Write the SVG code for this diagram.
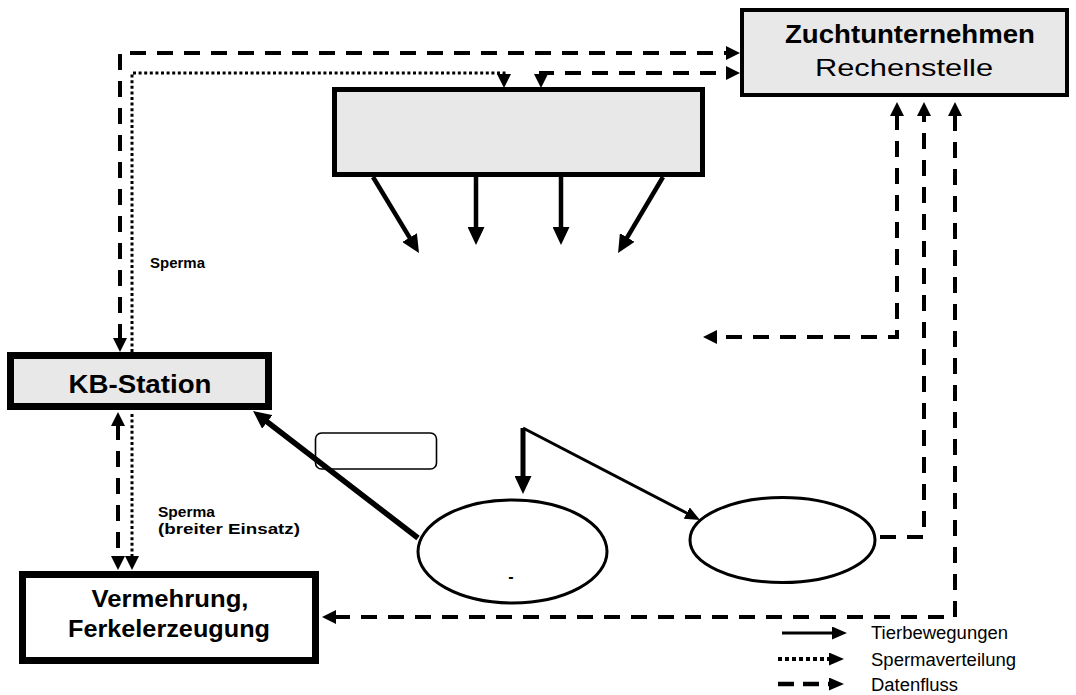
<svg xmlns="http://www.w3.org/2000/svg" width="1076" height="695" viewBox="0 0 1076 695">
  <style>
    .box { stroke: #000; }
    .grey { fill: #e8e8e8; }
    .white { fill: #fff; }
    .lbl { font-family: "Liberation Sans", Arial, sans-serif; fill: #000; }
    .b { font-weight: bold; }
    .data { fill: none; stroke: #000; stroke-width: 4; stroke-dasharray: 16 11; }
    .semen { fill: none; stroke: #000; stroke-width: 3; stroke-dasharray: 3 2.6; }
    .move { fill: none; stroke: #000; }
  </style>
  <defs>
    <marker id="ah" viewBox="0 0 14 14" markerWidth="14" markerHeight="14" refX="2" refY="7" orient="auto-start-reverse" markerUnits="userSpaceOnUse">
      <path d="M0,0 L14,7 L0,14 z" fill="#000"/>
    </marker>
    <marker id="ahBig" viewBox="0 0 18 17" markerWidth="18" markerHeight="17" refX="2" refY="8.5" orient="auto" markerUnits="userSpaceOnUse">
      <path d="M0,0 L18,8.5 L0,17 z" fill="#000"/>
    </marker>
    <marker id="ahSmall" viewBox="0 0 15 13" markerWidth="15" markerHeight="13" refX="2" refY="6.5" orient="auto" markerUnits="userSpaceOnUse">
      <path d="M0,0 L15,6.5 L0,13 z" fill="#000"/>
    </marker>
  </defs>

  <rect width="1076" height="695" fill="#fff"/>

  <!-- connectors -->
  <g id="connectors">
    <!-- data flow -->
    <path class="data" d="M120,340 V53 H728" marker-start="url(#ah)" marker-end="url(#ah)"/>
    <path class="data" d="M541,76 V73 H728" marker-start="url(#ah)" marker-end="url(#ah)"/>
    <path class="data" d="M897,114 V337 H715" marker-start="url(#ah)" marker-end="url(#ah)"/>
    <path class="data" d="M880,537 H924 V114" marker-end="url(#ah)"/>
    <path class="data" d="M334,617 H955 V114" marker-start="url(#ah)" marker-end="url(#ah)"/>
    <path class="data" d="M118,424 V558" marker-start="url(#ah)" marker-end="url(#ah)"/>

    <!-- semen distribution -->
    <path class="semen" d="M132,352 V73 H504 V76" marker-end="url(#ah)"/>
    <path class="semen" d="M132,414 V558" marker-end="url(#ah)"/>

    <!-- animal movements -->
    <path class="move" stroke-width="4.5" d="M373,177 L410.7,239.3" marker-end="url(#ahBig)"/>
    <path class="move" stroke-width="4.5" d="M476,177 V229" marker-end="url(#ahBig)"/>
    <path class="move" stroke-width="4.5" d="M561,177 V229" marker-end="url(#ahBig)"/>
    <path class="move" stroke-width="4.5" d="M663,177 L626.2,239.2" marker-end="url(#ahBig)"/>
    <path class="move" stroke-width="5.5" d="M418,538 L265.7,420.7" marker-end="url(#ahBig)"/>
    <path class="move" stroke-width="5" d="M523,428 V478" marker-end="url(#ahBig)"/>
    <path class="move" stroke-width="3" d="M523,428 L688.5,514" marker-end="url(#ahSmall)"/>
  </g>

  <!-- breeding company / data centre -->
  <g id="zuchtunternehmen">
    <rect class="box grey" x="742" y="10" width="325" height="85" stroke-width="4"/>
    <text class="lbl b" x="910" y="43" font-size="25" text-anchor="middle" textLength="250" lengthAdjust="spacingAndGlyphs">Zuchtunternehmen</text>
    <text class="lbl" x="904" y="76" font-size="24" text-anchor="middle" textLength="178" lengthAdjust="spacingAndGlyphs">Rechenstelle</text>
  </g>

  <!-- central stage -->
  <g id="mitte">
    <rect class="box grey" x="334.5" y="89.5" width="368" height="85" stroke-width="5"/>
  </g>

  <!-- AI station -->
  <g id="kb-station">
    <rect class="box grey" x="10.5" y="355.5" width="258" height="51" stroke-width="7"/>
    <text class="lbl b" x="140" y="393" font-size="26" text-anchor="middle" textLength="143" lengthAdjust="spacingAndGlyphs">KB-Station</text>
  </g>

  <!-- multiplication -->
  <g id="vermehrung">
    <rect class="box white" x="22.5" y="574.5" width="293" height="86" stroke-width="7"/>
    <text class="lbl b" x="170" y="607" font-size="23" text-anchor="middle" textLength="157" lengthAdjust="spacingAndGlyphs">Vermehrung,</text>
    <text class="lbl b" x="169" y="637" font-size="23" text-anchor="middle" textLength="202" lengthAdjust="spacingAndGlyphs">Ferkelerzeugung</text>
  </g>

  <!-- empty label box -->
  <g id="label-box">
    <rect x="315.5" y="433" width="121" height="36" rx="6" fill="none" stroke="#000" stroke-width="1.6"/>
  </g>

  <!-- ellipses -->
  <g id="ellipse-links">
    <ellipse cx="512.5" cy="551.5" rx="94.5" ry="51.5" fill="#fff" stroke="#000" stroke-width="3"/>
    <text class="lbl b" x="511" y="582" font-size="16" text-anchor="middle">-</text>
  </g>
  <g id="ellipse-rechts">
    <ellipse cx="782.5" cy="540" rx="92.5" ry="42.5" fill="#fff" stroke="#000" stroke-width="3"/>
  </g>

  <!-- edge labels -->
  <g id="labels">
    <text class="lbl b" x="150" y="268" font-size="15.5" textLength="55" lengthAdjust="spacingAndGlyphs">Sperma</text>
    <text class="lbl b" x="158" y="517" font-size="15.5" textLength="57" lengthAdjust="spacingAndGlyphs">Sperma</text>
    <text class="lbl b" x="158" y="534" font-size="15.5" textLength="142" lengthAdjust="spacingAndGlyphs">(breiter Einsatz)</text>
  </g>

  <!-- legend -->
  <g id="legend">
    <path class="move" stroke-width="3" d="M782,633 H834" marker-end="url(#ahSmall)"/>
    <path fill="none" stroke="#000" stroke-width="4" stroke-dasharray="4 3" d="M778,659 H831" marker-end="url(#ahSmall)"/>
    <path fill="none" stroke="#000" stroke-width="4.5" stroke-dasharray="16 9" d="M778,684 H831" marker-end="url(#ahSmall)"/>
    <text class="lbl" x="871" y="639" font-size="18" textLength="137" lengthAdjust="spacingAndGlyphs">Tierbewegungen</text>
    <text class="lbl" x="871" y="666" font-size="18" textLength="145" lengthAdjust="spacingAndGlyphs">Spermaverteilung</text>
    <text class="lbl" x="871" y="691" font-size="18" textLength="87" lengthAdjust="spacingAndGlyphs">Datenfluss</text>
  </g>
</svg>
